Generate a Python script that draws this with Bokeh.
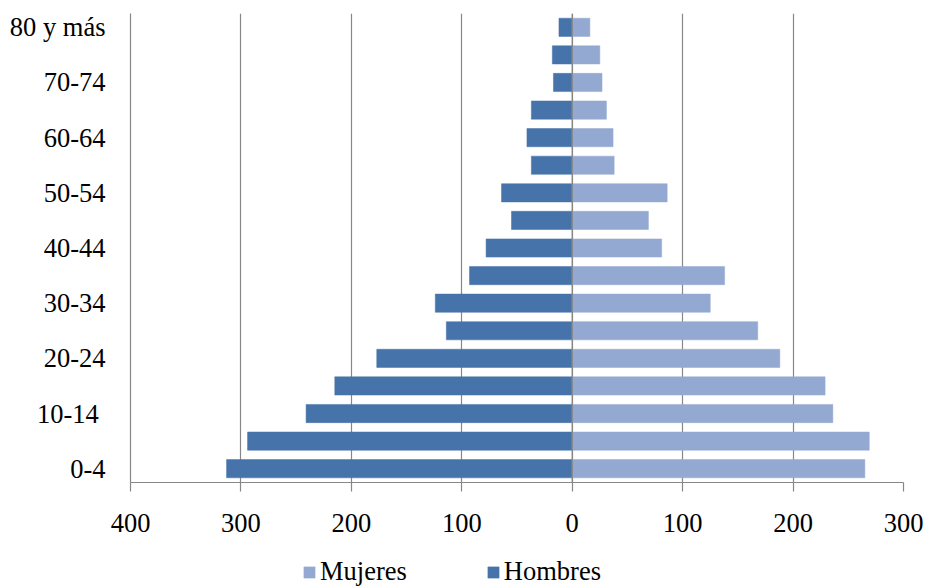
from bokeh.plotting import figure
from bokeh.layouts import column
from bokeh.models import Range1d, FixedTicker, Span, Legend, LegendItem, ColumnDataSource
from bokeh.embed import file_html
from bokeh.resources import INLINE

grupos = ["0-4", "5-9", "10-14", "15-19", "20-24", "25-29", "30-34", "35-39",
          "40-44", "45-49", "50-54", "55-59", "60-64", "65-69", "70-74", "75-79",
          "80 y más"]
hombres = [313, 294, 241, 215, 177, 114, 124, 93, 78, 55, 64, 37, 41, 37, 17, 18, 12]
mujeres = [265, 269, 236, 229, 188, 168, 125, 138, 81, 69, 86, 38, 37, 31, 27, 25, 16]
etiquetas_y = {0: "0-4", 2: "10-14 ", 4: "20-24", 6: "30-34", 8: "40-44",
               10: "50-54", 12: "60-64", 14: "70-74", 16: "80 y más"}
x_ticks = [-400, -300, -200, -100, 0, 100, 200, 300]
x_labels = ["400", "300", "200", "100", "0", "100", "200", "300"]
series = ["Mujeres", "Hombres"]

C_HOM = "#4673A9"
C_MUJ = "#94A9D1"
GRID = "#878787"
FONT = "Liberation Serif"
FS = "26.5px"

pos = list(range(len(grupos)))
src = ColumnDataSource(dict(y=pos, grupo=grupos,
                            h=[-v for v in hombres], m=mujeres))

p = figure(width=925, height=545, x_range=Range1d(-400, 300),
           y_range=Range1d(-0.5, len(grupos) - 0.5),
           output_backend="svg", toolbar_location=None,
           min_border_left=130, min_border_right=22,
           min_border_top=13, min_border_bottom=63)
p.outline_line_color = None
p.background_fill_color = "white"
p.border_fill_color = "white"

p.ygrid.grid_line_color = None
p.xgrid.ticker = FixedTicker(ticks=x_ticks[1:])
p.xgrid.grid_line_color = GRID
p.xgrid.grid_line_width = 1.2

hb = p.hbar(y="y", left="h", right=0, height=0.66, source=src,
            fill_color=C_HOM, line_color=C_HOM, line_width=0.5)
mb = p.hbar(y="y", left=0, right="m", height=0.66, source=src,
            fill_color=C_MUJ, line_color=C_MUJ, line_width=0.5)

p.add_layout(Span(location=0, dimension="height", line_color=GRID, line_width=1.2))

xa = p.xaxis[0]
xa.ticker = FixedTicker(ticks=x_ticks)
xa.major_label_overrides = {t: l for t, l in zip(x_ticks, x_labels)}
xa.axis_line_color = GRID
xa.axis_line_width = 1.2
xa.major_tick_line_color = GRID
xa.major_tick_line_width = 1.2
xa.major_tick_out = 9
xa.major_tick_in = 0
xa.minor_tick_line_color = None
xa.major_label_text_font = FONT
xa.major_label_text_font_size = FS
xa.major_label_text_color = "black"
xa.major_label_standoff = 22

ya = p.yaxis[0]
ya.ticker = FixedTicker(ticks=list(etiquetas_y.keys()))
ya.major_label_overrides = etiquetas_y
ya.axis_line_color = GRID
ya.axis_line_width = 1.2
ya.major_tick_line_color = None
ya.major_tick_out = 0
ya.major_tick_in = 0
ya.minor_tick_line_color = None
ya.major_label_text_font = FONT
ya.major_label_text_font_size = FS
ya.major_label_text_color = "black"
ya.major_label_standoff = 25

# legend strip below the chart (bars drawn out of its visible range, only swatches show)
lg = figure(width=925, height=42, x_range=Range1d(-400, 300), y_range=Range1d(100, 101),
            output_backend="svg", toolbar_location=None,
            x_axis_type=None, y_axis_type=None,
            min_border_left=0, min_border_right=0, min_border_top=0, min_border_bottom=0)
lg.outline_line_color = None
lg.grid.visible = False
rm = lg.hbar(y="y", left=0, right="m", height=0.66, source=src,
             fill_color=C_MUJ, line_color=C_MUJ, line_width=0.5)
rh = lg.hbar(y="y", left="h", right=0, height=0.66, source=src,
             fill_color=C_HOM, line_color=C_HOM, line_width=0.5)

legend = Legend(items=[LegendItem(label=series[0], renderers=[rm]),
                       LegendItem(label=series[1], renderers=[rh])],
                location=(172, 0), orientation="horizontal",
                glyph_width=14, glyph_height=14, label_standoff=4,
                spacing=79, padding=0, margin=0,
                label_text_font=FONT, label_text_font_size=FS,
                label_text_color="black",
                border_line_color=None, background_fill_alpha=0)
lg.add_layout(legend, "center")

layout = column(p, lg, spacing=0)
open("out.html", "w").write(file_html(layout, INLINE))
